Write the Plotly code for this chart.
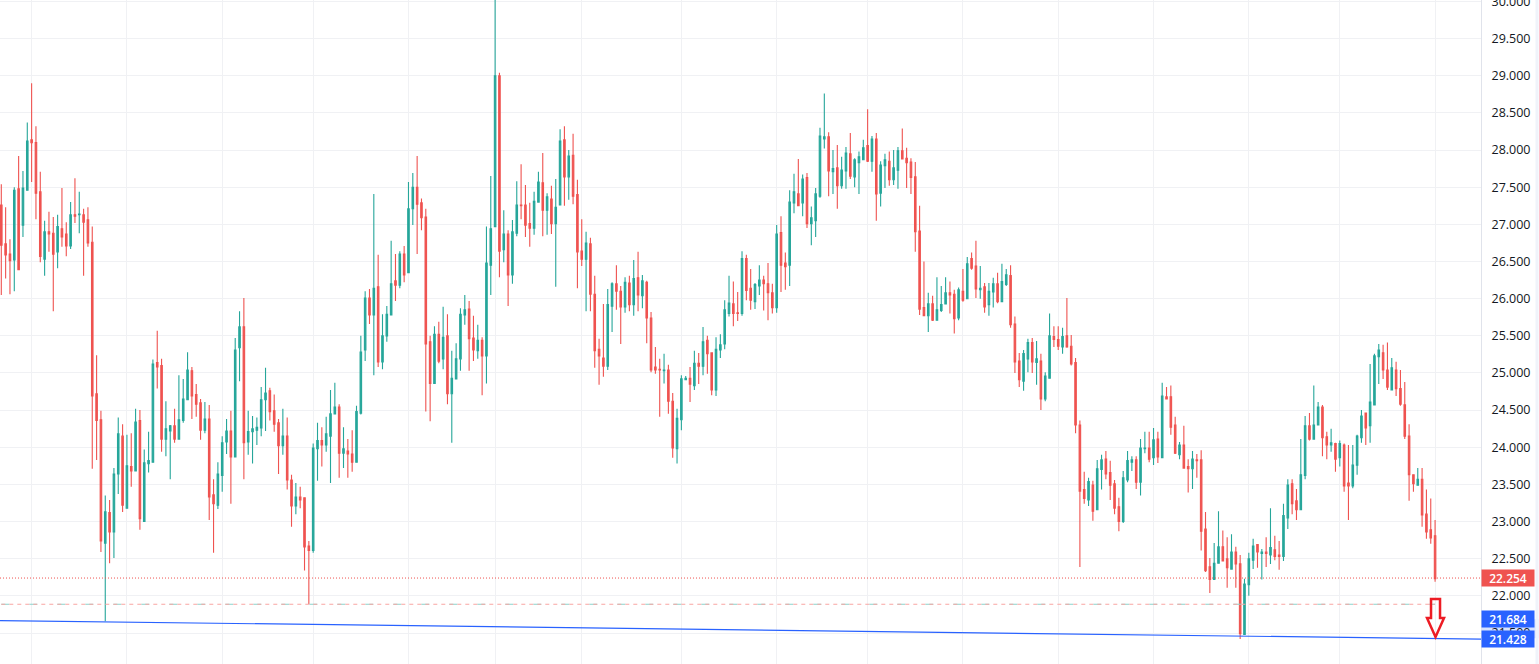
import plotly.graph_objects as go

# R = falling candle, G = rising candle
directions = ("RRRGRGGRRRGRRGRRGRGR" "RRRRGRGGRGRGRGGGRRGG" "RGGGRRRGRRGGGRGGRGGG" "GGRRRGRRGRRRGGRGGGRG"
              "RRGGGRGRGGGRGRGGRRRR" "GRGRGGGGRRGRGGGRGRGG" "RRRGGRGRGGRGRRRGRRRR" "GGRRGRGRGRRRRGRRGGGR"
              "GRGRRGGGGRRGRRGGRRRG" "RRGGRGRGGGGRGRGGRGGG" "RGRGGRGGRRRRRRGRGGGR" "RGRGRRGRGGRGGRRRGGRG"
              "RGGRRGRRRRRGRGGRRRRG" "GGRGGRGRGRRRGRRGRRRR" "GGRRGRRGGGRGRGRRGGRR" "GGRGGRRGRGRRGGGRGGGR"
              "RGRRRRRGRRRR")

highs = [
    27.54,27.23,26.80,27.50,27.92,27.72,28.37,28.90,28.32,27.71,27.05,27.17,27.10,27.13,27.49,27.03,27.30,27.62,27.44,27.21,
    27.23,26.97,25.24,24.49,23.35,23.29,23.72,24.40,24.31,24.17,24.19,24.52,24.50,23.97,24.21,25.18,25.57,25.19,24.62,24.30,
    24.52,24.97,24.92,25.28,25.08,24.85,24.65,24.61,24.57,23.57,23.80,24.15,24.38,24.49,25.47,25.83,26.01,24.49,24.42,24.40,
    24.81,25.07,24.80,24.71,24.38,24.52,24.40,23.63,23.52,23.47,23.32,22.74,24.05,24.33,24.27,24.41,24.77,24.87,24.58,24.27,
    24.11,24.23,24.56,25.50,26.10,26.13,27.41,26.59,25.79,25.90,26.78,26.60,26.64,26.71,27.57,27.69,27.92,27.35,27.21,25.50,
    25.63,25.69,25.89,25.79,25.30,25.40,25.87,26.05,25.97,25.77,25.65,25.48,26.97,27.65,30.05,29.04,27.19,26.92,27.06,27.58,
    27.81,27.53,27.29,27.44,27.71,27.96,27.42,27.52,27.61,28.28,28.32,28.00,28.22,27.60,27.07,26.90,26.82,26.31,25.46,25.93,
    26.13,26.22,26.45,26.17,26.29,26.31,26.52,26.63,26.32,26.24,25.82,25.35,25.19,25.26,25.11,24.73,24.52,24.97,24.96,25.08,
    25.30,25.27,25.62,25.50,25.27,25.48,25.52,25.98,26.31,26.23,26.09,26.64,26.59,26.40,26.21,26.45,26.31,26.48,26.20,26.99,
    27.11,26.62,27.46,27.68,27.88,27.67,27.69,27.24,27.49,28.30,28.76,28.24,28.00,28.07,27.91,28.04,28.23,27.89,27.98,28.14,
    28.55,28.19,28.23,27.85,27.95,27.98,28.00,28.04,28.29,28.03,27.89,27.84,27.25,26.50,26.08,26.04,26.29,26.17,26.29,26.23,
    26.12,26.15,26.40,26.56,26.62,26.78,26.44,26.21,26.21,26.28,26.35,26.47,26.40,26.45,25.76,25.27,25.31,25.46,25.47,25.43,
    25.26,25.01,25.80,25.63,25.63,25.61,26.01,25.51,25.20,24.36,23.67,23.59,23.55,23.83,23.90,23.95,23.82,23.56,23.32,23.68,
    23.95,23.88,23.88,24.11,24.21,24.21,24.26,24.21,24.87,24.81,24.83,24.41,24.07,24.29,23.84,23.95,23.91,23.96,23.13,22.51,
    22.71,23.14,22.88,22.79,22.83,22.66,22.55,22.23,22.58,22.77,22.69,22.63,22.79,23.18,22.81,22.74,23.24,23.57,23.57,23.44,
    24.11,24.42,24.46,24.83,24.61,24.57,24.21,24.25,24.06,24.09,24.05,24.03,24.03,24.17,24.50,24.46,25.12,25.26,25.39,25.38,
    25.41,25.20,25.15,25.04,24.88,24.31,23.63,23.72,23.72,23.43,23.31,23.02,
]
body_tops = [
    27.26,26.74,26.60,27.46,27.48,27.49,28.12,28.14,28.10,27.44,26.90,26.90,26.88,26.97,26.94,26.87,27.13,27.13,27.14,27.13,
    27.06,26.76,24.72,24.37,23.13,23.12,23.64,24.18,24.15,23.75,23.74,24.34,24.36,23.79,23.82,25.12,25.14,25.10,24.25,24.29,
    24.29,24.37,24.65,25.04,25.03,24.71,24.60,24.38,24.38,23.36,23.64,24.06,24.22,24.22,25.31,25.62,25.62,24.21,24.25,24.27,
    24.64,24.73,24.76,24.49,24.33,24.15,24.15,23.56,23.33,23.33,23.32,22.67,23.99,24.09,24.09,24.18,24.45,24.54,24.54,23.98,
    23.95,23.91,24.48,25.28,26.01,26.01,26.14,26.16,25.50,25.79,26.20,26.24,26.60,26.60,27.21,27.50,27.50,27.29,27.10,25.42,
    25.52,25.52,25.48,25.50,24.93,25.19,25.79,25.85,25.86,25.47,25.44,25.44,26.48,26.94,29.00,29.00,26.87,26.87,26.90,27.26,
    27.26,27.26,27.01,27.31,27.57,27.56,27.37,27.34,27.23,28.12,28.14,27.92,27.93,27.40,26.64,26.75,26.74,26.06,25.32,25.20,
    25.92,26.20,26.20,26.10,26.22,26.21,26.27,26.28,26.24,26.22,25.74,25.08,25.05,25.04,25.04,24.62,24.39,24.92,24.93,24.93,
    25.13,25.13,25.42,25.44,25.27,25.32,25.38,25.85,25.94,25.93,25.81,26.54,26.54,26.14,26.19,26.25,26.25,26.20,26.08,26.87,
    26.89,26.48,27.30,27.44,27.41,27.61,27.63,27.09,27.41,28.19,28.18,28.18,27.75,27.76,27.73,27.96,27.95,27.87,27.91,28.03,
    28.06,28.15,28.15,27.80,27.87,27.85,27.76,27.99,27.99,27.89,27.84,27.64,26.91,25.88,25.93,25.93,25.85,25.92,26.08,26.08,
    26.06,26.12,26.10,26.47,26.54,26.44,26.14,26.16,26.10,26.20,26.20,26.23,26.32,26.31,25.66,25.16,25.26,25.41,25.41,25.19,
    25.16,24.96,25.50,25.49,25.45,25.49,25.50,25.36,25.14,24.30,23.43,23.54,23.49,23.71,23.83,23.84,23.66,23.51,23.20,23.59,
    23.82,23.83,23.83,23.99,23.99,23.99,24.10,24.11,24.69,24.68,24.68,24.30,24.03,24.03,23.74,23.84,23.83,23.83,22.90,22.39,
    22.44,22.66,22.66,22.50,22.59,22.59,22.43,22.16,22.50,22.67,22.69,22.59,22.59,22.65,22.62,22.55,23.08,23.49,23.51,23.28,
    23.63,24.29,24.29,24.30,24.54,24.54,24.14,24.06,24.05,24.05,24.03,23.52,23.76,24.15,24.42,24.46,24.61,25.23,25.31,25.27,
    25.04,25.07,25.04,24.79,24.57,24.15,23.63,23.57,23.57,23.10,22.89,22.81,
]
body_bottoms = [
    26.72,26.59,26.51,26.52,26.39,26.99,27.46,28.10,27.42,26.57,26.53,26.87,26.60,26.63,26.83,26.71,26.71,27.11,27.13,27.03,
    26.75,24.69,24.36,22.74,22.71,22.86,22.86,23.64,23.22,23.18,23.68,23.68,23.04,23.00,23.78,23.80,25.08,24.11,24.11,24.22,
    24.11,24.11,24.36,24.64,24.69,24.58,24.23,24.23,23.33,23.24,23.22,23.62,24.07,23.87,23.87,25.34,24.06,24.07,24.21,24.23,
    24.26,24.64,24.48,24.31,24.02,24.02,23.56,23.21,23.21,23.29,22.66,22.61,22.61,23.98,24.03,24.03,24.15,24.45,23.92,23.92,
    23.91,23.80,23.80,24.46,25.31,25.78,25.78,25.15,25.15,25.50,25.78,26.18,26.18,26.32,26.35,27.21,27.27,27.09,25.39,24.86,
    24.86,25.16,25.19,24.72,24.72,24.92,25.19,25.78,25.46,25.31,25.30,25.23,25.23,26.45,26.97,26.64,26.66,26.32,26.32,26.88,
    27.25,26.99,26.95,26.95,27.30,27.19,27.19,27.01,27.01,27.26,27.64,27.64,27.38,26.63,26.53,26.53,26.06,25.30,25.23,25.09,
    25.09,25.90,26.10,25.89,25.89,25.92,25.92,26.05,26.04,25.74,25.04,25.04,25.04,25.03,24.62,23.99,23.98,24.37,24.91,24.85,
    24.83,25.09,25.09,25.26,24.77,24.77,25.31,25.39,25.80,25.80,25.80,25.80,26.11,25.98,25.96,26.17,26.20,26.08,25.88,25.88,
    26.45,26.43,26.45,27.29,27.25,27.29,27.01,27.01,27.05,27.38,28.15,27.72,27.71,27.52,27.52,27.72,27.65,27.64,27.83,27.87,
    27.85,27.85,27.41,27.42,27.79,27.60,27.60,27.73,27.88,27.83,27.63,26.90,25.86,25.77,25.77,25.71,25.71,25.84,25.93,26.05,
    25.73,25.74,25.98,26.00,26.41,26.13,26.12,25.89,25.92,26.09,25.96,25.96,26.19,25.65,25.15,24.91,24.89,25.19,25.15,25.14,
    24.65,24.65,24.93,25.45,25.36,25.35,25.35,25.12,24.30,23.41,23.31,23.29,23.14,23.16,23.70,23.64,23.49,23.18,23.00,23.00,
    23.56,23.80,23.53,23.53,23.98,23.84,23.86,23.87,23.86,24.65,24.27,23.92,23.90,23.72,23.71,23.71,23.82,22.87,22.34,22.22,
    22.22,22.44,22.47,22.38,22.36,22.43,21.49,21.48,22.15,22.48,22.59,22.57,22.57,22.55,22.53,22.53,22.53,23.05,23.24,23.16,
    23.16,23.62,24.11,24.11,24.30,24.13,24.03,24.03,23.84,23.86,23.48,23.48,23.48,23.76,24.13,24.26,24.29,24.57,25.22,25.04,
    24.81,24.77,24.79,24.58,24.15,23.63,23.51,23.49,23.09,22.86,22.78,22.23,
]
lows = [
    26.05,26.27,26.06,26.10,26.39,26.83,27.46,27.57,27.07,26.49,26.31,26.63,25.83,26.41,26.70,26.57,26.67,27.02,26.88,26.31,
    26.70,23.71,23.83,22.59,21.66,22.44,22.51,23.37,23.13,23.18,23.47,23.68,22.89,23.00,23.66,23.80,24.79,23.94,23.88,23.57,
    24.06,24.11,24.33,24.64,24.38,24.41,24.10,24.19,23.02,22.58,23.17,23.40,23.91,23.24,23.87,24.89,23.57,23.90,23.78,24.03,
    24.15,24.22,24.36,24.21,23.64,23.90,23.43,22.93,23.10,23.18,22.34,21.89,22.58,23.55,23.74,23.94,23.52,24.44,23.59,23.72,
    23.59,23.67,23.80,24.44,25.16,25.66,24.97,25.08,25.05,25.42,25.78,25.97,26.14,26.22,26.35,26.99,26.60,26.92,24.48,24.35,
    24.86,25.13,25.05,24.58,24.06,24.92,25.03,25.65,25.03,25.16,25.19,24.70,24.86,26.05,26.97,26.29,26.49,25.90,26.20,26.84,
    27.07,26.83,26.70,26.86,27.30,26.84,26.86,26.87,26.16,27.26,27.25,27.33,27.27,26.14,26.44,25.83,25.83,25.07,24.84,24.95,
    25.04,25.55,25.85,25.39,25.81,25.83,25.77,25.83,25.87,25.40,25.01,24.99,24.41,24.86,24.45,23.86,23.78,24.23,24.91,24.61,
    24.77,24.85,24.97,24.99,24.70,24.69,25.20,25.32,25.76,25.63,25.70,25.77,25.98,25.85,25.86,26.05,25.84,25.71,25.80,25.81,
    26.09,26.12,26.17,27.15,27.25,27.11,26.95,26.72,26.83,27.36,28.02,27.38,27.41,27.21,27.48,27.48,27.61,27.50,27.41,27.87,
    27.84,27.71,27.05,27.24,27.49,27.52,27.53,27.48,27.88,27.49,27.41,26.63,25.78,25.77,25.55,25.70,25.71,25.82,25.93,25.80,
    25.53,25.71,25.96,26.00,26.39,26.01,26.00,25.81,25.77,25.88,25.94,25.96,26.17,25.61,25.00,24.81,24.76,25.01,25.00,24.84,
    24.50,24.62,24.93,25.35,25.31,25.26,25.34,25.10,24.19,22.39,23.24,23.21,23.01,23.16,23.43,23.57,23.29,23.10,22.87,22.98,
    23.53,23.68,23.44,23.35,23.92,23.80,23.76,23.79,23.86,24.65,24.17,23.91,23.84,23.72,23.39,23.44,23.59,22.61,22.32,22.04,
    22.22,22.44,22.47,22.11,22.36,22.11,21.42,21.48,22.00,22.36,22.38,22.22,22.39,22.43,22.48,22.35,22.47,22.90,23.10,23.02,
    23.16,23.57,24.09,24.11,24.30,23.88,23.84,23.94,23.67,23.74,23.40,23.02,23.45,23.63,24.06,24.03,24.06,24.57,24.85,24.92,
    24.77,24.77,24.69,24.56,24.11,23.28,23.40,23.49,22.93,22.77,22.70,22.19,
]

price_ticks = [21.5, 22, 22.5, 23, 23.5, 24, 24.5, 25, 25.5, 26, 26.5, 27, 27.5, 28, 28.5, 29, 29.5, 30]
time_grid = [7, 29, 51, 72, 94, 114, 134, 157, 179, 200, 222, 244, 266, 288, 309, 331]

last_price = 22.24
level_price = 21.887
trend_x = [-0.3, 341.6]
trend_y = [21.668, 21.418]
label_texts = ["22.254", "21.684", "21.428"]
label_prices = [22.24, 21.684, 21.42]
label_colors = ["#ef5350", "#2962ff", "#2962ff"]

RED = "#ef5350"
GREEN = "#26a69a"
GRID = "#f0f1f4"
PLOT_W = 1481.5
PLOT_H = 664

idx = list(range(len(highs)))
opens = [b if d == "G" else t for d, t, b in zip(directions, body_tops, body_bottoms)]
closes = [t if d == "G" else b for d, t, b in zip(directions, body_tops, body_bottoms)]

fig = go.Figure()
fig.add_trace(go.Candlestick(
    x=idx, open=opens, high=highs, low=lows, close=closes,
    increasing=dict(line=dict(color=GREEN, width=1.1), fillcolor=GREEN),
    decreasing=dict(line=dict(color=RED, width=1.1), fillcolor=RED),
    whiskerwidth=0, showlegend=False,
))
# dashed level is drawn twice, teal under red
fig.add_trace(go.Scatter(x=[0, idx[-1]], y=[level_price, level_price], mode="lines", showlegend=False,
                         line=dict(color="#8ad4cc", width=1, dash="8px,20px")))
fig.add_trace(go.Scatter(x=[0, idx[-1]], y=[level_price, level_price], mode="lines", showlegend=False,
                         line=dict(color="#f9a5a3", width=1, dash="4px,4px")))
fig.add_trace(go.Scatter(x=[-0.3, 341.6], y=[last_price, last_price], mode="lines", showlegend=False,
                         line=dict(color=RED, width=1, dash="1px,2px")))
fig.add_trace(go.Scatter(x=trend_x, y=trend_y, mode="lines", showlegend=False,
                         line=dict(color="#2962ff", width=1.2)))

# red outline arrow, pixel positions of the drawing
arrow_px = [(1431.5, 599), (1440.5, 599), (1440.5, 618), (1444.5, 618), (1436, 637),
            (1427.5, 618), (1431.5, 618)]
arrow_path = "M " + " L ".join(f"{x / PLOT_W:.5f},{1 - y / PLOT_H:.5f}" for x, y in arrow_px) + " Z"
shapes = [
    dict(type="path", path=arrow_path, xref="paper", yref="paper", line=dict(color="#ed1c24", width=2.5)),
    dict(type="rect", xref="paper", yref="y", x0=1, x1=1539 / PLOT_W, y0=21.428, y1=21.684,
         fillcolor="rgba(41,98,255,0.18)", line=dict(width=0), layer="below"),
    # pale strip along the right edge of the window
    dict(type="rect", xref="paper", yref="paper", x0=1536 / PLOT_W, x1=1539 / PLOT_W, y0=0, y1=1,
         fillcolor="#f0f3fa", line=dict(width=0)),
]

annotations = []
for txt, p, c in zip(label_texts, label_prices, label_colors):
    annotations.append(dict(
        x=1, xref="paper", y=p, yref="y", xanchor="left", yanchor="middle",
        text=txt, showarrow=False, width=52, height=16, align="center", borderpad=0,
        bgcolor=c, font=dict(color="white", size=12, family="Open Sans", weight=600),
    ))

fig.update_layout(
    width=1539, height=664,
    margin=dict(l=0, r=1539 - PLOT_W, t=0, b=0, autoexpand=False),
    paper_bgcolor="white", plot_bgcolor="white",
    boxgap=0.5,
    shapes=shapes, annotations=annotations,
    xaxis=dict(range=[-0.3, 341.6], tickvals=time_grid, showticklabels=False, gridcolor=GRID, gridwidth=1,
               rangeslider=dict(visible=False), zeroline=False, showline=False, ticks=""),
    yaxis=dict(range=[21.083, 30.02], side="right", tickvals=price_ticks,
               ticktext=[f"{t:.3f}" for t in price_ticks], gridcolor=GRID, gridwidth=1,
               zeroline=False, showline=True, linecolor="#e0e3eb", linewidth=1, ticks="",
               ticklabeloverflow="allow", ticklabelstandoff=7,
               tickfont=dict(color="#131722", size=12.5, family="Open Sans")),
)

fig.write_html("out.html", config=dict(displayModeBar=False), post_script="document.body.style.margin='0';")
